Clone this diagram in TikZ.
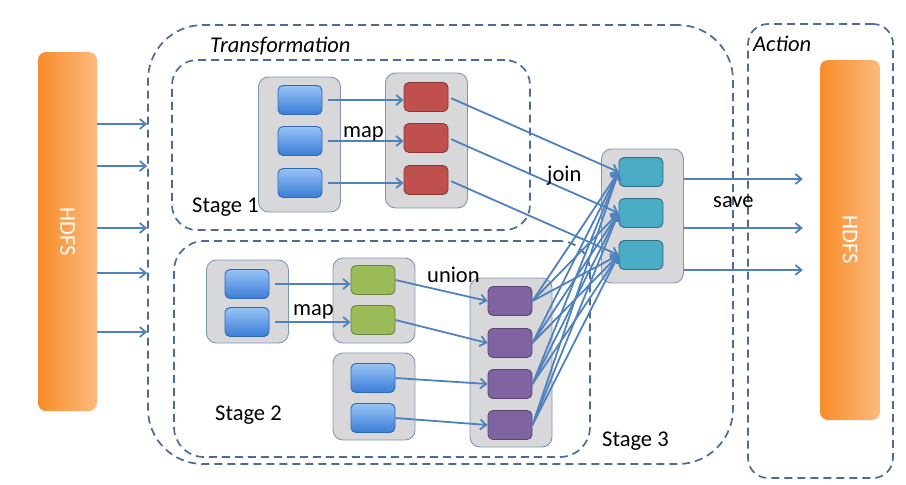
\documentclass[tikz,border=0pt]{standalone}
\usepackage{fontspec}
\setmainfont{Carlito}
\usetikzlibrary{arrows.meta}
\definecolor{flowblue}{RGB}{79,129,189}
\definecolor{dashblue}{RGB}{74,108,150}
\definecolor{grpfill}{RGB}{216,216,218}
\definecolor{grpline}{RGB}{126,150,182}
\definecolor{hdfsdark}{RGB}{247,140,40}
\definecolor{hdfslight}{RGB}{252,186,126}
\definecolor{partred}{RGB}{192,80,77}
\definecolor{partgreen}{RGB}{155,187,89}
\definecolor{partpurple}{RGB}{128,100,162}
\definecolor{partcyan}{RGB}{75,172,198}
\definecolor{bluetop}{RGB}{152,196,246}
\definecolor{bluebot}{RGB}{58,124,214}

\begin{document}
\begin{tikzpicture}[
        x=1pt, y=-1pt,
        every node/.style={inner sep=0pt, font=\fontsize{22.5}{26}\selectfont},
        lbl/.style={anchor=base west},
        region/.style={draw=dashblue, line width=1.7pt, dash pattern=on 8pt off 5pt, rounded corners=#1},
        region/.default=25pt,
        hdfs/.style={rounded corners=8pt, left color=hdfsdark, right color=hdfslight,
          text=white, minimum width=59pt, minimum height=359pt},
        grp/.style={draw=grpline, fill=grpfill, line width=0.9pt, rounded corners=10pt, minimum width=82pt},
        part/.style={minimum width=44pt, minimum height=29pt, rounded corners=5pt, line width=0.9pt},
        blu/.style={part, draw=bluebot!85!black, top color=bluetop, bottom color=bluebot},
        rdd/.style={part, draw=partred!70!black, fill=partred},
        grn/.style={part, draw=partgreen!70!black, fill=partgreen},
        prp/.style={part, draw=partpurple!70!black, fill=partpurple},
        cyn/.style={part, draw=partcyan!65!black, fill=partcyan},
        flow/.style={draw=flowblue, line width=1.8pt, -{Straight Barb[length=6pt,width=10pt]}},
      ]
      \useasboundingbox (0,0) rectangle (906,485);

      \node[region=55pt, minimum width=585pt, minimum height=439pt] (trans) at (440.5,244.5) {};
      \node[region=20pt, minimum width=145pt, minimum height=454pt] (act) at (820.5,251) {};
      \node[region, minimum width=358pt, minimum height=170pt] (st1) at (351,145) {};
      \node[region=30pt, minimum width=416pt, minimum height=216pt] (st2) at (382,349) {};

      \node[hdfs] (hdfsL) at (67.5,231.5) {\rotatebox{-90}{HDFS}};
      \node[hdfs, minimum width=60pt, minimum height=360pt] (hdfsR) at (850,240) {\rotatebox{-90}{HDFS}};

      \node[grp, minimum height=135pt] (g1) at (299.5,144.5) {};
      \node[grp, minimum height=135pt] (g2) at (426.5,140.5) {};
      \node[grp, minimum height=134pt] (g3) at (642.5,216) {};
      \node[grp, minimum height=83pt] (g4) at (247.5,301.5) {};
      \node[grp, minimum height=85pt] (g5) at (374,300.5) {};
      \node[grp, minimum height=87pt] (g6) at (374,396.5) {};
      \node[grp, minimum height=169pt] (g7) at (511,362.5) {};

      \foreach \i/\y in {1/100,2/141,3/183} \node[blu] (a\i) at (300,\y) {};
      \foreach \i/\y in {1/97,2/138,3/180} \node[rdd] (r\i) at (426,\y) {};
      \foreach \i/\y in {1/172,2/213,3/255} \node[cyn] (c\i) at (641,\y) {};
      \foreach \i/\y in {1/284,2/322} \node[blu] (b\i) at (247,\y) {};
      \foreach \i/\y in {1/280,2/320} \node[grn] (e\i) at (373,\y) {};
      \foreach \i/\y in {3/378,4/418} \node[blu] (b\i) at (373,\y) {};
      \foreach \i/\y in {1/301,2/343,3/384,4/425} \node[prp] (p\i) at (510,\y) {};

      \foreach \y in {124,166,228,273,332}
        \draw[flow] (hdfsL.east |- 0,\y) -- (trans.west |- 0,\y);
      \foreach \i in {1,2,3} {
        \draw[flow, shorten <=6pt] (a\i.east) -- (a\i.east -| r\i.west);
        \draw[flow, shorten <=3pt] (r\i.east) -- (c\i.west);
      }
      \foreach \i in {1,2} {
        \draw[flow, shorten <=6pt] (b\i.east) -- (b\i.east -| e\i.west);
        \draw[flow] (e\i.east) -- (p\i.west);
      }
      \foreach \i in {3,4} \draw[flow] (b\i.east) -- (p\i.west);
      \foreach \i in {1,2,3,4}
        \foreach \j in {1,2,3}
          \draw[flow] (p\i.east) -- (c\j.west);
      \foreach \y in {179,228,270}
        \draw[flow, shorten >=17pt] (g3.east |- 0,\y) -- (hdfsR.west |- 0,\y);

      \node[lbl, font=\fontsize{22.5}{26}\selectfont\itshape] (ltrans) at (210,52) {Transformation};
      \node[lbl, font=\fontsize{22.5}{26}\selectfont\itshape] (lact) at (753,51) {Action};
      \node[lbl] (ls1) at (192,212) {Stage 1};
      \node[lbl] (ls2) at (215,420) {Stage 2};
      \node[lbl] (ls3) at (602,446) {Stage 3};
      \node[lbl] (lmap1) at (343,137) {map};
      \node[lbl] (lmap2) at (293,315) {map};
      \node[lbl] (lunion) at (427,282) {union};
      \node[lbl] (ljoin) at (547,181) {join};
      \node[lbl] (lsave) at (713,207) {save};
      \end{tikzpicture}
\end{document}
